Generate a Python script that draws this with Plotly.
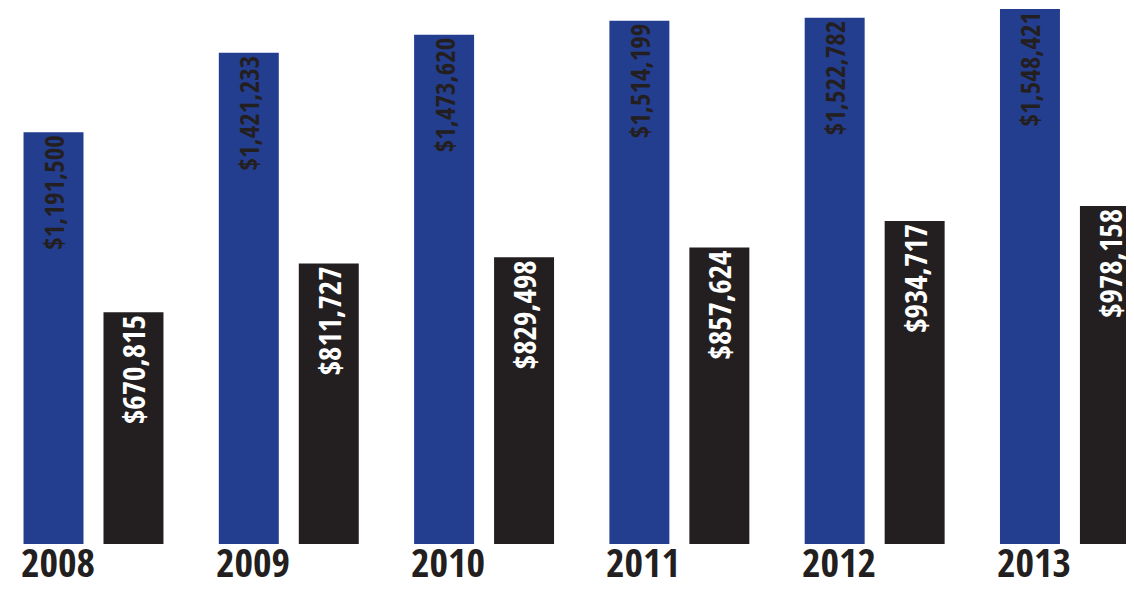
import plotly.graph_objects as go

years = ["2008", "2009", "2010", "2011", "2012", "2013"]
blue_values = [1191500, 1421233, 1473620, 1514199, 1522782, 1548421]
black_values = [670815, 811727, 829498, 857624, 934717, 978158]

BLUE = "#243e8f"
BLACK = "#231f20"
FONT = "Open Sans Condensed, Roboto Condensed, sans-serif"

fig = go.Figure()
fig.add_trace(go.Bar(
    x=years, y=blue_values, marker_color=BLUE, marker_line_width=0,
    texttemplate="$%{y:,.0f}", textposition="inside", insidetextanchor="end",
    textangle=-90, constraintext="none",
    textfont=dict(family=FONT, size=27, color=BLACK, weight="bold"),
    hoverinfo="skip",
))
fig.add_trace(go.Bar(
    x=years, y=black_values, marker_color=BLACK, marker_line_width=0,
    texttemplate="$%{y:,.0f}", textposition="inside", insidetextanchor="end",
    textangle=-90, constraintext="none",
    textfont=dict(family=FONT, size=31, color="white", weight="bold"),
    hoverinfo="skip",
))

for i, yr in enumerate(years):
    fig.add_annotation(
        x=i, xref="x", y=0, yref="paper", yanchor="top", xanchor="center",
        xshift=-36, yshift=12, text=yr, showarrow=False,
        font=dict(family=FONT, size=40, color=BLACK, weight="bold"),
    )

fig.update_layout(
    width=1118, height=582,
    margin=dict(l=0, r=0, t=0, b=46, autoexpand=False),
    paper_bgcolor="white", plot_bgcolor="white",
    barmode="group", bargap=0.181, bargroupgap=0.25,
    showlegend=False,
    xaxis=dict(type="category", range=[-0.4378, 5.287], showticklabels=False, showgrid=False,
               zeroline=False, showline=False, ticks=""),
    yaxis=dict(range=[0, 1551000], visible=False, showgrid=False, zeroline=False),
)

fig.write_html("out.html")
